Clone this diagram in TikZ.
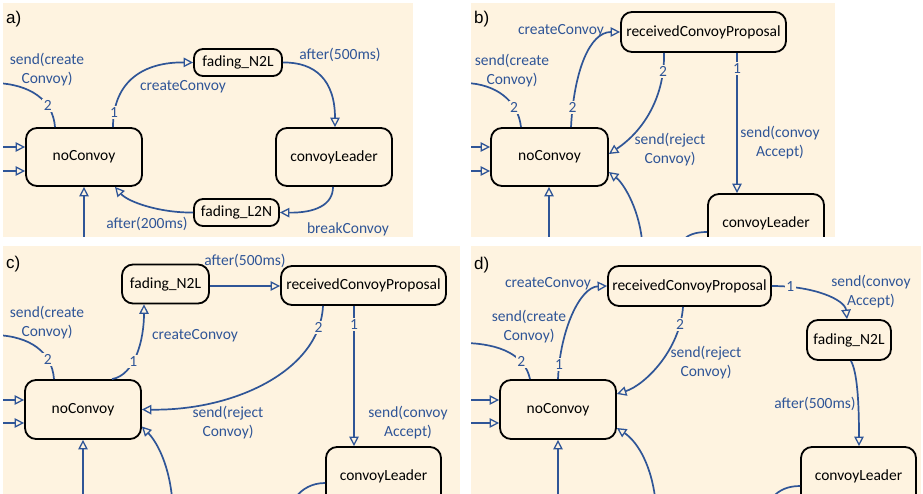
\documentclass[tikz,border=0pt]{standalone}
\usepackage{fontspec}
\setmainfont{Carlito}
\newfontfamily\panelfont{Liberation Sans}
\usetikzlibrary{arrows.meta,calc}
\definecolor{paper}{RGB}{254,243,224}
\definecolor{ink}{RGB}{47,85,151}
\begin{document}
\begin{tikzpicture}[x=1pt,y=-1pt,
  stbox/.style={draw=black, line width=1.8pt, fill=paper, rounded corners=11pt,
    inner sep=0pt, font=\fontsize{15.5}{19}\selectfont},
  pill/.style={stbox, rounded corners=9pt},
  wire/.style={draw=ink, line width=1.7pt},
  tr/.style={wire, -{Triangle[open, length=9.5pt, width=9.5pt, line width=1.3pt]}},
  lbl/.style={text=ink, font=\fontsize{15.5}{19}\selectfont, align=center, inner sep=0pt},
  prio/.style={lbl, fill=paper, inner sep=1.5pt},
  tag/.style={font=\panelfont\fontsize{17}{20}\selectfont, inner sep=0pt, anchor=west},
]
\useasboundingbox (0,0) rectangle (923,494);
\fill[white] (0,0) rectangle (923,494);

% ---------------- panel a ----------------
\begin{scope}
\clip (3,3) rectangle (413,237);
\fill[paper] (3,3) rectangle (413,237);
\node[tag] (aTag) at (6,19) {a)};
\node[stbox, minimum width=116pt, minimum height=58pt] (aNo) at (84,157) {noConvoy};
\node[pill, minimum width=88pt, minimum height=27pt] (aN2L) at (238,62.5) {fading\_N2L};
\node[stbox, minimum width=116pt, minimum height=58pt] (aLead) at (334,157) {convoyLeader};
\node[pill, minimum width=85pt, minimum height=27pt] (aL2N) at (236.5,212.5) {fading\_L2N};
\coordinate (aIn1) at (0,147);
\coordinate (aIn2) at (0,171);
\coordinate (aIn3) at (84,240);
\coordinate (aIn4) at (-5,83);
\draw[tr] (aIn1) -- (aIn1 -| aNo.west);
\draw[tr] (aIn2) -- (aIn2 -| aNo.west);
\draw[tr] (aIn3) -- (aNo.south);
\draw[wire] (aIn4) .. controls (30,84) and (53,100) .. ($(aNo.north)+(-29,0)$)
  node[prio, pos=0.7] (aP2) {2};
\node[lbl] (aSend) at (47,70) {send(create\\Convoy)};
\draw[tr] ($(aNo.north)+(29,0)$) .. controls (113,80) and (145,62) .. (aN2L.west)
  node[prio, pos=0.11] (aP1) {1};
\node[lbl] (aCreate) at (183,87) {createConvoy};
\draw[tr] (aN2L.east) .. controls (315,62) and (335,80) .. ($(aLead.north)+(1,0)$);
\node[lbl] (aAfter5) at (340,55) {after(500ms)};
\draw[tr] ($(aLead.south)+(-1,0)$) .. controls (333,205) and (315,213) .. (aL2N.east);
\node[lbl] (aBreak) at (348,229) {breakConvoy};
\draw[tr] (aL2N.west) .. controls (160,213) and (128,202) .. ($(aNo.south)+(31,0)$);
\node[lbl] (aAfter2) at (147,224) {after(200ms)};
\end{scope}

% ---------------- panel b ----------------
\begin{scope}
\clip (471,3) rectangle (835,237);
\fill[paper] (471,3) rectangle (835,237);
\node[tag] (bTag) at (474,19) {b)};
\node[stbox, minimum width=117pt, minimum height=58pt] (bNo) at (549.5,157) {noConvoy};
\node[stbox, minimum width=165pt, minimum height=40pt] (bRec) at (703.5,32) {receivedConvoyProposal};
\node[stbox, minimum width=116pt, minimum height=58pt] (bLead) at (766,223) {convoyLeader};
\coordinate (bIn1) at (468,147);
\coordinate (bIn2) at (468,171);
\coordinate (bIn3) at (549,240);
\coordinate (bIn4) at (466,83);
\coordinate (bIn5) at (642,240);
\coordinate (bOut) at (683,240);
\draw[tr] (bIn1) -- (bIn1 -| bNo.west);
\draw[tr] (bIn2) -- (bIn2 -| bNo.west);
\draw[tr] (bIn3) -- (bIn3 |- bNo.south);
\draw[tr] (bIn5) .. controls (638,205) and (622,182) .. ($(bNo.east)+(0,15)$);
\draw[wire] ($(bLead.west)+(0,9)$) .. controls (695,232) and (688,235) .. (bOut);
\draw[wire] (bIn4) .. controls (495,84) and (518,100) .. ($(bNo.north)+(-28.5,0)$)
  node[prio, pos=0.72] (bP2a) {2};
\node[lbl] (bSend) at (512,71) {send(create\\Convoy)};
\draw[tr] ($(bNo.north)+(21.5,0)$) .. controls (574,70) and (590,32) .. (bRec.west)
  node[prio, pos=0.12] (bP2b) {2};
\node[lbl] (bCreate) at (561,31) {createConvoy};
\draw[tr] ($(bRec.south)+(-39.5,0)$) .. controls (665,95) and (645,130) .. ($(bNo.east)+(0,-3)$)
  node[prio, pos=0.15] (bP2c) {2};
\node[lbl] (bReject) at (670,150) {send(reject\\Convoy)};
\draw[tr] ($(bRec.south)+(33.5,0)$) -- ($(bLead.north)+(-29,0)$)
  node[prio, pos=0.11] (bP1) {1};
\node[lbl] (bAccept) at (780,142.5) {send(convoy\\Accept)};
\end{scope}

% ---------------- panel c ----------------
\begin{scope}
\clip (3,246) rectangle (460,494);
\fill[paper] (3,246) rectangle (460,494);
\node[tag] (cTag) at (6,264) {c)};
\node[stbox, minimum width=87pt, minimum height=39pt] (cN2L) at (165.5,284) {fading\_N2L};
\node[stbox, minimum width=165pt, minimum height=39pt] (cRec) at (363.5,285.5) {receivedConvoyProposal};
\node[stbox, minimum width=116pt, minimum height=59pt] (cNo) at (83,409.5) {noConvoy};
\node[stbox, minimum width=115pt, minimum height=58pt] (cLead) at (383.5,476) {convoyLeader};
\coordinate (cIn1) at (0,400);
\coordinate (cIn2) at (0,423);
\coordinate (cIn3) at (83,497);
\coordinate (cIn4) at (-5,335);
\coordinate (cIn5) at (172,497);
\coordinate (cOut) at (296,497);
\coordinate (cMid) at (245,286);
\draw[tr] (cIn1) -- (cIn1 -| cNo.west);
\draw[tr] (cIn2) -- (cIn2 -| cNo.west);
\draw[tr] (cIn3) -- (cNo.south);
\draw[tr] (cIn5) .. controls (168,460) and (155,440) .. ($(cNo.east)+(0,17)$);
\draw[wire] ($(cLead.west)+(0,7)$) .. controls (312,483) and (302,489) .. (cOut);
\draw[wire] (cIn4) .. controls (30,336) and (52,352) .. ($(cNo.north)+(-29,0)$)
  node[prio, pos=0.72] (cP2a) {2};
\node[lbl] (cSend) at (47,322.5) {send(create\\Convoy)};
\draw[tr] ($(cNo.north)+(29,0)$) .. controls (135,375) and (144,340) .. ($(cN2L.south)+(-21.5,0)$)
  node[prio, pos=0.4] (cP1a) {1};
\node[lbl] (cCreate) at (195,336) {createConvoy};
\draw[tr] (cMid -| cN2L.east) -- (cMid -| cRec.west);
\node[lbl] (cAfter) at (245,261) {after(500ms)};
\draw[tr] ($(cRec.south)+(-40.5,0)$) .. controls (320,370) and (235,411) .. (cNo.east)
  node[prio, pos=0.12] (cP2b) {2};
\node[lbl] (cReject) at (228,422.5) {send(reject\\Convoy)};
\draw[tr] ($(cRec.south)+(-9.5,0)$) -- ($(cLead.north)+(-29.5,0)$)
  node[prio, pos=0.13] (cP1b) {1};
\node[lbl] (cAccept) at (408,422.5) {send(convoy\\Accept)};
\end{scope}

% ---------------- panel d ----------------
\begin{scope}
\clip (471,246) rectangle (921,494);
\fill[paper] (471,246) rectangle (921,494);
\node[tag] (dTag) at (474,265) {d)};
\node[stbox, minimum width=163pt, minimum height=40pt] (dRec) at (689.5,286) {receivedConvoyProposal};
\node[stbox, minimum width=84pt, minimum height=40pt] (dN2L) at (849,340) {fading\_N2L};
\node[stbox, minimum width=116pt, minimum height=59pt] (dNo) at (558,409.5) {noConvoy};
\node[stbox, minimum width=115pt, minimum height=58pt] (dLead) at (858.5,476) {convoyLeader};
\coordinate (dIn1) at (468,400);
\coordinate (dIn2) at (468,423);
\coordinate (dIn3) at (558,497);
\coordinate (dIn4) at (466,343);
\coordinate (dIn5) at (655,497);
\coordinate (dOut) at (773,497);
\draw[tr] (dIn1) -- (dIn1 -| dNo.west);
\draw[tr] (dIn2) -- (dIn2 -| dNo.west);
\draw[tr] (dIn3) -- (dNo.south);
\draw[tr] (dIn5) .. controls (650,460) and (635,440) .. ($(dNo.east)+(0,18.5)$);
\draw[wire] ($(dLead.west)+(0,10)$) .. controls (788,486) and (779,490) .. (dOut);
\draw[wire] (dIn4) .. controls (500,344) and (525,355) .. ($(dNo.north)+(-28,0)$)
  node[prio, pos=0.72] (dP2a) {2};
\node[lbl] (dSend) at (529,327) {send(create\\Convoy)};
\draw[tr] (dNo.north) .. controls (560,330) and (580,287) .. (dRec.west)
  node[prio, pos=0.1] (dP1a) {1};
\node[lbl] (dCreate) at (548,284) {createConvoy};
\draw[tr] ($(dRec.south)+(-6.5,0)$) .. controls (680,350) and (645,385) .. ($(dNo.east)+(0,-15.5)$)
  node[prio, pos=0.14] (dP2b) {2};
\node[lbl] (dReject) at (706,362.5) {send(reject\\Convoy)};
\draw[tr] (dRec.east) .. controls (815,286) and (845,300) .. ($(dN2L.north)+(-2,0)$)
  node[prio, pos=0.15] (dP1b) {1};
\node[lbl] (dAccept) at (871,291.5) {send(convoy\\Accept)};
\draw[tr] ($(dN2L.south)+(2,0)$) .. controls (857,372) and (859,400) .. ($(dLead.north)+(0.5,0)$);
\node[lbl] (dAfter) at (815,404) {after(500ms)};
\end{scope}
\end{tikzpicture}
\end{document}
